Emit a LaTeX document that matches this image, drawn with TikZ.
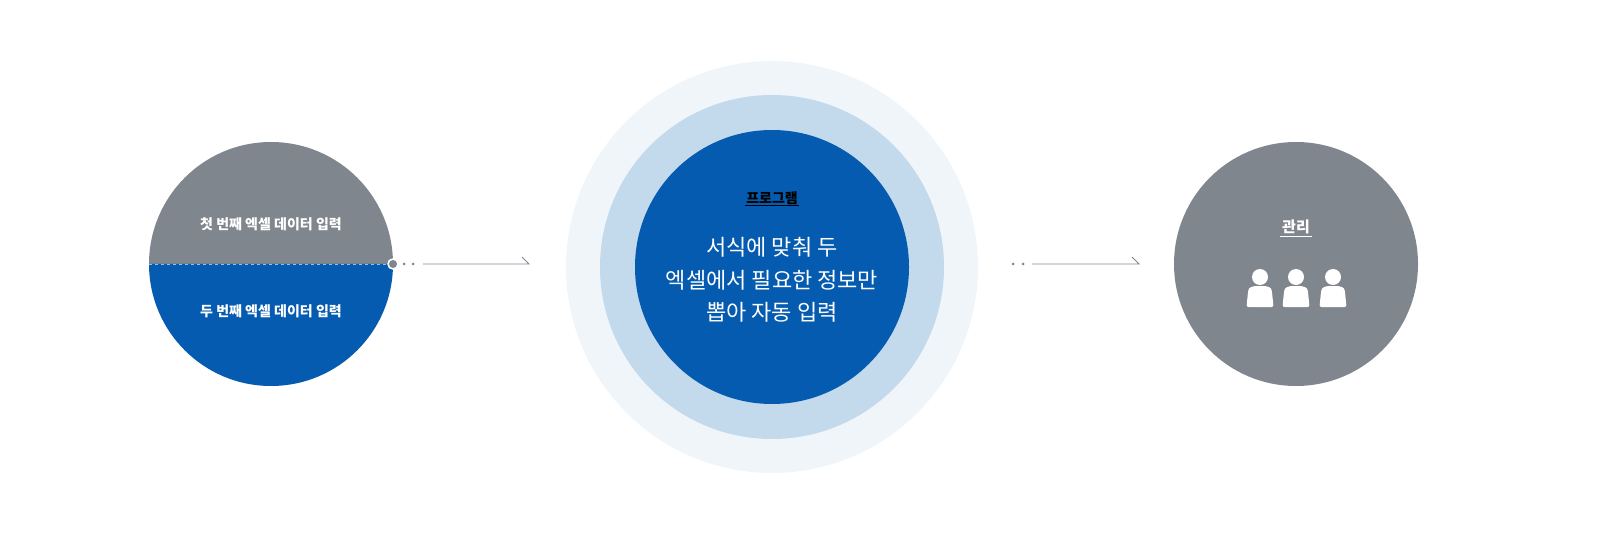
\documentclass[tikz,border=0pt]{standalone}
\usepackage{fontspec}
\newfontfamily\kr{Noto Sans CJK KR}
\definecolor{cgray}{HTML}{80868D}
\definecolor{cblue}{HTML}{045BB0}
\definecolor{cring1}{HTML}{F0F5FA}
\definecolor{cring2}{HTML}{C3D9EC}
\definecolor{cline}{HTML}{80868D}
\tikzset{
  lbl/.style={font=\kr\bfseries\fontsize{14}{16}\selectfont, text=white},
  dotc/.style={circle, fill=cline, inner sep=0pt, minimum size=3pt},
  conn/.style={draw=cline, line width=0.8pt}
}
\newcommand{\personicon}[2]{%
  \fill[white] (#1,#2-11) circle (8);%
  \fill[white, rounded corners=2pt] (#1-13.5,#2+19) -- (#1-12,#2+4) .. controls (#1-11,#2-1) and (#1-7,#2-2) .. (#1,#2-2) .. controls (#1+7,#2-2) and (#1+11,#2-1) .. (#1+12,#2+4) -- (#1+13.5,#2+19) -- cycle;}
\begin{document}
\begin{tikzpicture}[x=1pt,y=-1pt]
% left circle
\fill[cgray] (149,264) arc (180:360:122) -- cycle;
\fill[cblue] (149,264) arc (180:0:122) -- cycle;
\draw[white, opacity=0.6, dashed, line width=0.6pt] (149,264) -- (393,264);
\node[lbl] (t1) at (271,224) {첫 번째 엑셀 데이터 입력};
\node[lbl] (t2) at (271,311) {두 번째 엑셀 데이터 입력};
\node[circle, fill=cgray, draw=white, line width=1.5pt, minimum size=10pt, inner sep=0pt] (p1) at (393,264) {};
\node[dotc] (d1) at (404,264) {};
\node[dotc] (d2) at (413,264) {};
\coordinate (a1s) at (423,264);
\coordinate (a1e) at (529,264);
\draw[conn] (a1s) -- (a1e) -- ++(-7,-7);
% middle
\fill[cring1] (772,267) circle (206);
\fill[cring2] (772,267) circle (172);
\node[circle, fill=cblue, minimum size=274pt, inner sep=0pt] (mid) at (772,267) {};
\node[font=\kr\bfseries\fontsize{14}{16}\selectfont, text=black, inner sep=1pt] (pg) at (772,198) {프로그램};
\draw[black, line width=0.8pt] (pg.south west) -- (pg.south east);
\node[font=\kr\fontsize{22}{32.5}\selectfont, text=white, align=center] (mt) at (772,280) {서식에 맞춰 두\\엑셀에서 필요한 정보만\\뽑아 자동 입력};
% right connector
\node[dotc] (d3) at (1013,264) {};
\node[dotc] (d4) at (1023,264) {};
\coordinate (a2s) at (1032,264);
\coordinate (a2e) at (1139,264);
\draw[conn] (a2s) -- (a2e) -- ++(-7,-7);
% right circle
\node[circle, fill=cgray, minimum size=244pt, inner sep=0pt] (right) at (1296,264) {};
\node[font=\kr\bfseries\fontsize{15}{17}\selectfont, text=white, inner sep=2pt] (gl) at (1296,227) {관리};
\draw[white, line width=0.8pt] (gl.south west) -- (gl.south east);
\personicon{1260}{288}
\personicon{1296}{288}
\personicon{1333}{288}
\pgfresetboundingbox
\useasboundingbox (0,0) rectangle (1600,545);
\end{tikzpicture}
\end{document}
